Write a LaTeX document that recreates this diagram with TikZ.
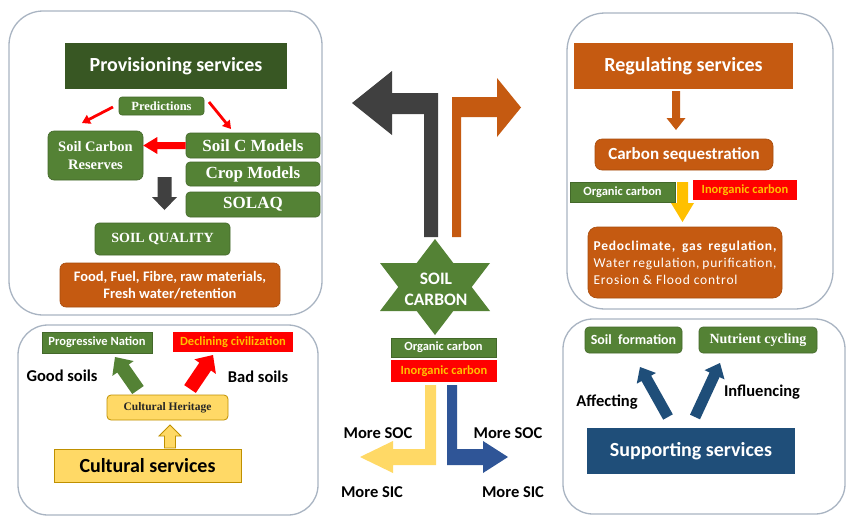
\documentclass[tikz,border=0pt]{standalone}
\usepackage{fontspec}
\setmainfont{Carlito}
\newfontfamily\tnr{Liberation Serif}
\newfontfamily\spaced[LetterSpace=6]{Carlito}
\usetikzlibrary{calc}

\definecolor{dkgreen}{HTML}{385723}
\definecolor{midgreen}{HTML}{548235}
\definecolor{rust}{HTML}{C55A11}
\definecolor{charcoal}{HTML}{404040}
\definecolor{amber}{HTML}{FFC000}
\definecolor{lightgold}{HTML}{FFD966}
\definecolor{goldedge}{HTML}{BF9000}
\definecolor{navy}{HTML}{1F4E79}
\definecolor{royal}{HTML}{2F5597}
\definecolor{panelc}{HTML}{A9B4C2}
\definecolor{brightred}{HTML}{FF0000}

% block arrow: style, from, to, half shaft, half head, head length
\newcommand\blockarrow[6]{%
  \path ($(#3)!#6!(#2)$) coordinate (ba-h);
  \path[#1] ($(#2)!#4!90:(#3)$) -- ($(ba-h)!#4!90:(#3)$) -- ($(ba-h)!#5!90:(#3)$)
    -- (#3) -- ($(ba-h)!#5!-90:(#3)$) -- ($(ba-h)!#4!-90:(#3)$) -- ($(#2)!#4!-90:(#3)$) -- cycle;
}

\begin{document}
\begin{tikzpicture}[x=1pt,y=-1pt,
  panel/.style={draw=panelc, line width=1.3pt, fill=white},
  box/.style={inner sep=0pt, text=white, align=center},
  gbox/.style={box, fill=midgreen, draw=midgreen!80!black, line width=0.6pt},
  obox/.style={box, fill=rust, draw=rust!85!black, line width=0.6pt},
  rbox/.style={box, fill=brightred, text=amber},
  ybox/.style={box, fill=lightgold, draw=goldedge, line width=0.8pt},
  size/.style 2 args={minimum width=#1, minimum height=#2},
  sanstitle/.style={font=\bfseries\fontsize{20}{24}\selectfont},
  sanssmall/.style={font=\bfseries\fontsize{12.5}{15}\selectfont},
  serifb/.style={font=\tnr\bfseries\fontsize{#1}{#1}\selectfont},
  label/.style={font=\bfseries\fontsize{16.5}{19}\selectfont, text=black, inner sep=0pt},
]
\useasboundingbox (0,0) rectangle (847,517);
\fill[white] (0,0) rectangle (847,517);

% ---------- panels ----------
\draw[panel, rounded corners=34pt] (9,11) rectangle (322,315);
\draw[panel, rounded corners=30pt] (18,325) rectangle (318,515);
\draw[panel, rounded corners=38pt] (567,13) rectangle (833,309);
\draw[panel, rounded corners=30pt] (563,319) rectangle (845,514);

% ---------- provisioning services ----------
\node[box, fill=dkgreen, size={222}{46}, sanstitle] (prov) at (176,66) {Provisioning services};
\node[gbox, rounded corners=3pt, size={85}{18}, serifb=12.5] (pred) at (161.5,106) {Predictions};
\node[gbox, rounded corners=6pt, size={95}{49}, font=\tnr\bfseries\fontsize{14.5}{18}\selectfont] (scr) at (95.5,155.5) {Soil Carbon\\Reserves};
\node[gbox, rounded corners=4pt, size={134}{25}, serifb=17] (scm) at (253,145.5) {Soil C Models};
\node[gbox, rounded corners=4pt, size={134}{24}, serifb=17] (crop) at (253,174) {Crop Models};
\node[gbox, rounded corners=4pt, size={134}{25}, serifb=17] (solaq) at (253,204.5) {SOLAQ};
\node[gbox, rounded corners=4pt, size={135}{32}, serifb=14] (sq) at (162.5,239) {SOIL QUALITY};
\node[obox, rounded corners=6pt, size={220}{44}, font=\bfseries\fontsize{14.5}{17}\selectfont] (food) at (170,285)
  {Food, Fuel, Fibre, raw materials,\\Fresh water/retention};

\coordinate (p1s) at (113,107); \coordinate (p1e) at (82,123);
\coordinate (p2s) at (209,102); \coordinate (p2e) at (231,129);
\blockarrow{fill=brightred}{p1s}{p1e}{1.4pt}{5pt}{8pt}
\blockarrow{fill=brightred}{p2s}{p2e}{1.4pt}{5pt}{8pt}
\blockarrow{fill=brightred}{scm.west}{scr.east |- scm.west}{3.5pt}{8.5pt}{14pt}
\coordinate (d1s) at (164.5,177); \coordinate (d1e) at (164.5,210);
\blockarrow{fill=charcoal}{d1s}{d1e}{7pt}{12.5pt}{13pt}

% ---------- centre: soil carbon ----------
\fill[charcoal] (424,237) -- (424,114) -- (392,114) -- (392,135) -- (352,103)
  -- (392,71) -- (392,93) -- (438,93) -- (438,237) -- cycle;
\fill[rust] (452,237) -- (452,97) -- (497,97) -- (497,78) -- (521,107.5)
  -- (497,137) -- (497,117) -- (461,117) -- (461,237) -- cycle;

\fill[midgreen] (435,239) -- (453.3,263) -- (490,263) -- (471.7,287) -- (490,311)
  -- (453.3,311) -- (435,335) -- (416.7,311) -- (380,311) -- (398.3,287)
  -- (380,263) -- (416.7,263) -- cycle;
\node[box, font=\bfseries\fontsize{17.5}{21}\selectfont] (star) at (436,289) {SOIL\\CARBON};

\node[gbox, size={105}{19}, sanssmall] (oc1) at (443.5,347.5) {Organic carbon};
\node[rbox, size={106}{22}, sanssmall] (ic1) at (444,371) {Inorganic carbon};

\fill[lightgold] (425,385) -- (425,449) -- (393,449) -- (393,441) -- (360,457)
  -- (393,473) -- (393,465) -- (436,465) -- (436,385) -- cycle;
\fill[royal] (447,385) -- (447,465) -- (483,465) -- (483,473) -- (508,457)
  -- (483,441) -- (483,449) -- (457,449) -- (457,385) -- cycle;

\node[label] (socl) at (378,433) {More SOC};
\node[label] (sicl) at (372,492) {More SIC};
\node[label] (socr) at (508,433) {More SOC};
\node[label] (sicr) at (513,492) {More SIC};

% ---------- regulating services ----------
\node[box, fill=rust, size={219}{46}, sanstitle] (reg) at (683.5,66) {Regulating services};
\node[obox, rounded corners=7pt, size={178}{31}, font=\bfseries\fontsize{17}{20}\selectfont] (cseq) at (684,154.5) {Carbon sequestration};
\node[gbox, size={105}{20}, sanssmall] (oc2) at (622.5,192) {Organic carbon};
\node[rbox, size={104}{20}, sanssmall] (ic2) at (745,190) {Inorganic carbon};
\node[obox, rounded corners=9pt, size={194}{71}, font=\spaced\fontsize{13.5}{17}\selectfont, align=left] (pedo) at (685,262.5)
  {\makebox[183pt][s]{\bfseries Pedoclimate, gas regulation,}\\
   \makebox[183pt][s]{Water regulation, purification,}\\
   \makebox[183pt][l]{Erosion \& Flood control}};

\coordinate (r1s) at (676,91); \coordinate (r1e) at (676,130);
\blockarrow{fill=rust}{r1s}{r1e}{4pt}{9.5pt}{12pt}
\coordinate (g1s) at (682.5,182); \coordinate (g1e) at (682.5,222);
\blockarrow{fill=amber}{g1s}{g1e}{5.5pt}{11.5pt}{19pt}

% ---------- cultural services ----------
\node[gbox, size={110}{21}, sanssmall] (prog) at (97,342.5) {Progressive Nation};
\node[rbox, size={120}{20}, sanssmall] (decl) at (233,342) {Declining civilization};
\node[ybox, rounded corners=4pt, size={121}{25}, serifb=11.5, text=black!85] (herit) at (167.5,407.5) {Cultural Heritage};
\node[ybox, size={187}{33}, font=\bfseries\fontsize{20}{24}\selectfont, text=black] (cult) at (147.5,465.5) {Cultural services};
\node[label] (good) at (62,376) {Good soils};
\node[label] (bad) at (258,377) {Bad soils};

\coordinate (c1s) at (138,390); \coordinate (c1e) at (115,357);
\blockarrow{fill=midgreen}{c1s}{c1e}{7pt}{13pt}{14pt}
\coordinate (c2s) at (190,389); \coordinate (c2e) at (213,355);
\blockarrow{fill=brightred}{c2s}{c2e}{7pt}{13pt}{14pt}
\coordinate (c3s) at (170,448); \coordinate (c3e) at (170,425);
\blockarrow{fill=lightgold, draw=goldedge, line width=0.8pt}{c3s}{c3e}{5.5pt}{11pt}{11pt}

% ---------- supporting services ----------
\node[gbox, rounded corners=4pt, size={97}{26}, font=\bfseries\fontsize{14}{17}\selectfont] (sform) at (633.5,340) {Soil\ \ formation};
\node[gbox, rounded corners=4pt, size={118}{26}, serifb=14] (ncyc) at (758,340) {Nutrient cycling};
\node[box, fill=navy, size={208}{46}, font=\bfseries\fontsize{20}{24}\selectfont] (supp) at (691,451) {Supporting services};
\node[label] (aff) at (607,402) {Affecting};
\node[label] (infl) at (762,392) {Influencing};

\coordinate (s1s) at (668,417); \coordinate (s1e) at (640,367);
\blockarrow{fill=navy}{s1s}{s1e}{5.5pt}{11pt}{13pt}
\coordinate (s2s) at (695,417); \coordinate (s2e) at (720,363);
\blockarrow{fill=navy}{s2s}{s2e}{5.5pt}{11pt}{13pt}
\end{tikzpicture}
\end{document}
